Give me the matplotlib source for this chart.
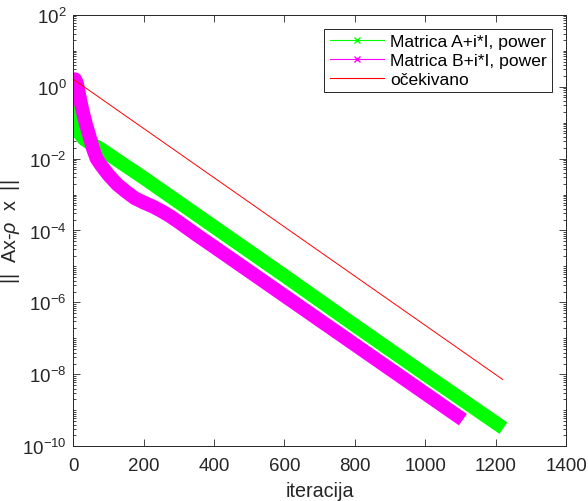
import numpy as np
import matplotlib
matplotlib.use("Agg")
import matplotlib.pyplot as plt
from matplotlib.lines import Line2D
from matplotlib.ticker import LogLocator, NullFormatter

plt.rcParams["font.family"] = ["Liberation Sans", "DejaVu Sans"]
plt.rcParams["mathtext.fontset"] = "custom"
plt.rcParams["mathtext.rm"] = "Liberation Sans"
plt.rcParams["mathtext.it"] = "Liberation Sans:italic"

# values (residual norm per iteration)
iter_a = [0, 4, 8, 12, 18, 30, 50, 76, 200, 400, 600, 800, 1000, 1222]
res_a = [1.6, 0.5, 0.16, 0.08, 0.05, 0.035, 0.026, 0.019, 2.9e-3, 1.26e-4,
         5.5e-6, 2.3e-7, 1.0e-8, 3.2e-10]

iter_b = [0, 5, 10, 15, 20, 28, 36, 45, 55, 66, 80, 100, 125, 150, 175, 200,
          225, 250, 275, 300, 350, 400, 502, 700, 900, 1107]
res_b = [1.6, 1.6, 1.26, 0.71, 0.40, 0.18, 0.089, 0.045, 0.020, 0.010,
         6.3e-3, 3.5e-3, 1.9e-3, 1.2e-3, 7.9e-4, 6.0e-4, 4.7e-4, 3.5e-4,
         2.5e-4, 1.7e-4, 7.6e-5, 3.5e-5, 7.1e-6, 3.2e-7, 1.4e-8, 5.5e-10]

iter_exp = [0, 1220]
res_exp = [1.6, 7.2e-9]

labels = ["Matrica A+i*I, power", "Matrica B+i*I, power", "očekivano"]
GREEN, MAGENTA, RED = "#00ff00", "#ff00ff", "#ff0000"
AXC = "#262626"

fig = plt.figure(figsize=(5.88, 5.02), dpi=100)
ax = fig.add_axes([0.1247, 0.109, 0.8379, 0.8597])

# the dense 'x' markers in the original merge into a thick band
ax.plot(iter_a, res_a, color=GREEN, lw=10, solid_capstyle="butt",
        solid_joinstyle="round")
ax.plot(iter_b, res_b, color=MAGENTA, lw=10, solid_capstyle="butt",
        solid_joinstyle="round")
ax.plot(iter_exp, res_exp, color=RED, lw=0.7)

ax.set_yscale("log")
ax.set_xlim(0, 1400)
ax.set_ylim(1e-10, 1e2)
ax.set_xticks(range(0, 1401, 200))
ax.set_yticks([1e-10, 1e-8, 1e-6, 1e-4, 1e-2, 1e0, 1e2])
ax.yaxis.set_minor_locator(LogLocator(base=10, subs=np.arange(1, 10), numticks=50))
ax.yaxis.set_minor_formatter(NullFormatter())

ax.tick_params(which="both", direction="in", top=True, right=True,
               colors=AXC, labelsize=13.5, width=0.6)
ax.tick_params(which="major", length=5)
ax.tick_params(which="minor", length=2.5)
ax.tick_params(axis="x", pad=8)
ax.tick_params(axis="y", pad=5)
for s in ax.spines.values():
    s.set_color(AXC)
    s.set_linewidth(0.7)

ax.set_xlabel("iteracija", fontsize=14.2, color=AXC, labelpad=5)
ax.set_ylabel(r"||  Ax-$\rho$  x  ||", fontsize=14.2, color=AXC)
ax.yaxis.set_label_coords(-0.104, 0.5)

handles = [
    Line2D([], [], color=GREEN, lw=0.8, marker="x", markersize=5),
    Line2D([], [], color=MAGENTA, lw=0.8, marker="x", markersize=5),
    Line2D([], [], color=RED, lw=0.8),
]
leg = ax.legend(handles, labels, loc="upper right", fontsize=12.6,
                handlelength=3.1, handletextpad=0.35, labelspacing=0.2,
                borderpad=0.3, borderaxespad=0.8, fancybox=False,
                framealpha=1, edgecolor=AXC)
leg.get_frame().set_linewidth(0.7)
for t in leg.get_texts():
    t.set_color("black")

fig.savefig("out.png", dpi=100)
